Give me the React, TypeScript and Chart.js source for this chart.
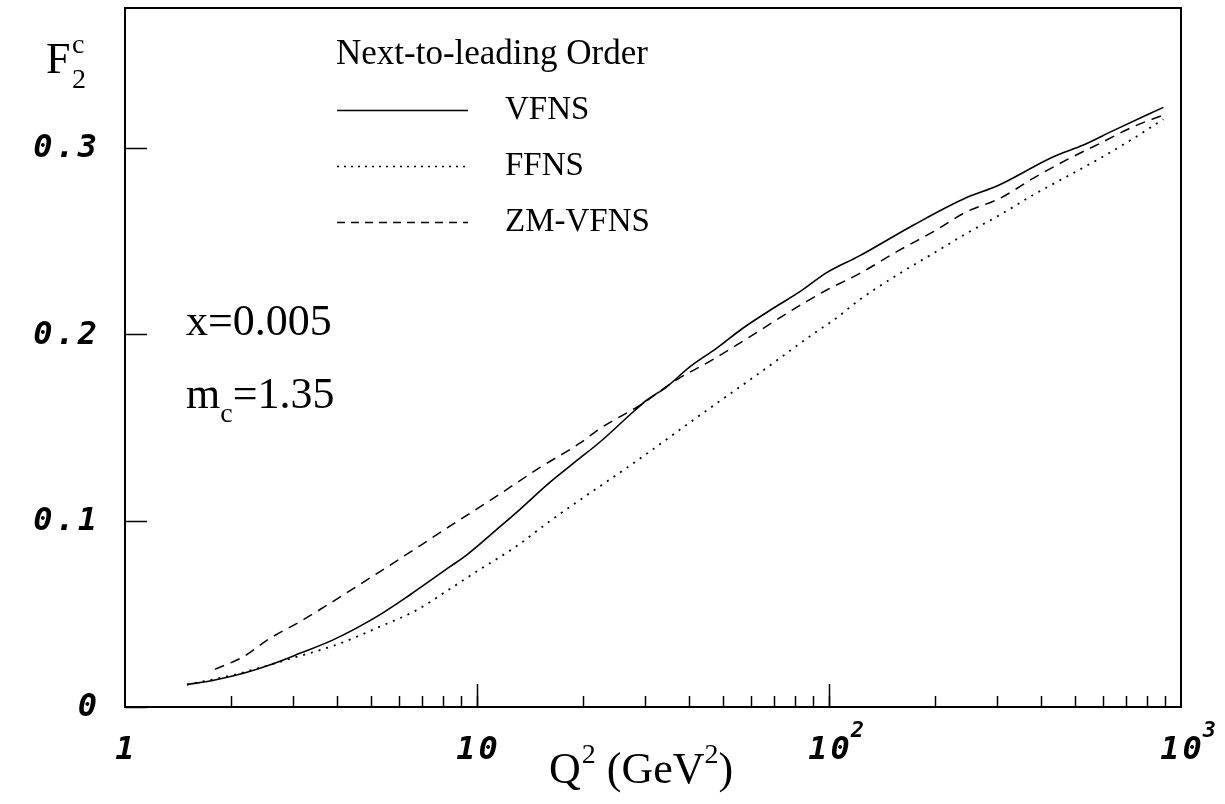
import React, { useEffect, useRef } from "react";
import { Chart, registerables } from "chart.js";

Chart.register(...registerables);

// ---- data ----
const Q_VFNS = [1.5, 1.8, 2.17, 2.6, 3.14, 3.9, 5.19, 6.44, 8.4, 9.34, 11.6, 13.2, 16.1, 19, 22.4, 27.8, 30.4, 34.6, 40.3, 47.9, 56.9, 69.4, 82.7, 98.5, 122, 174, 246, 300, 434, 528, 642, 891];
const F_VFNS = [0.012, 0.0145, 0.0181, 0.0228, 0.0288, 0.036, 0.0485, 0.0601, 0.0754, 0.0815, 0.0966, 0.1058, 0.1205, 0.1315, 0.1423, 0.1584, 0.1647, 0.1718, 0.1826, 0.1924, 0.2032, 0.2139, 0.2228, 0.233, 0.242, 0.2586, 0.2733, 0.2795, 0.2952, 0.3015, 0.3092, 0.3217];

const Q_FFNS = [1.5, 2.03, 3.0, 4.0, 5.3, 6.74, 8.4, 10, 13, 16.1, 20, 24.9, 29.1, 38.5, 48, 59.7, 74.2, 92.3, 103, 122, 159, 198, 246, 306, 380, 473, 589, 732, 891];
const F_FFNS = [0.012, 0.0172, 0.0263, 0.0335, 0.0431, 0.052, 0.0635, 0.0728, 0.0865, 0.0997, 0.1122, 0.1245, 0.1334, 0.15, 0.163, 0.1756, 0.1885, 0.2015, 0.2075, 0.2184, 0.2327, 0.2434, 0.2541, 0.264, 0.2747, 0.2845, 0.2944, 0.305, 0.3153];

const Q_ZM = [1.8, 2.17, 2.58, 3.14, 3.74, 4.45, 5.3, 6.88, 8.95, 11.6, 15.1, 19.6, 22.4, 29.1, 36.8, 45.7, 59.7, 75.9, 98.5, 122, 159, 198, 246, 306, 380, 473, 589, 732, 891];
const F_ZM = [0.0202, 0.027, 0.0368, 0.0458, 0.0545, 0.0635, 0.0726, 0.0865, 0.1005, 0.1142, 0.1285, 0.1415, 0.1495, 0.162, 0.1754, 0.1853, 0.1987, 0.2112, 0.2237, 0.2325, 0.2452, 0.255, 0.2657, 0.2729, 0.2836, 0.2935, 0.3024, 0.3113, 0.3176];

const X_MAJOR = [1, 10, 100, 1000];
const X_MAJOR_BASE = ["1", "10", "10", "10"];
const X_MAJOR_SUP = ["", "", "2", "3"];
const Y_TICKS = [0, 0.1, 0.2, 0.3];
const Y_TICK_LABELS = ["0", "0.1", "0.2", "0.3"];

const SERIES_NAMES = ["VFNS", "FFNS", "ZM-VFNS"];
const LEGEND_TITLE = "Next-to-leading Order";

const toPts = (qs: number[], fs: number[]) => qs.map((q, i) => ({ x: q, y: fs[i] }));

const SERIF = '"Liberation Serif", "DejaVu Serif", serif';
const MONO = '"DejaVu Sans Mono", monospace';

const decorPlugin = {
  id: "decor",
  afterDraw(chart: any) {
    const ctx: CanvasRenderingContext2D = chart.ctx;
    const { left, right, top, bottom } = chart.chartArea;
    const xs = chart.scales.x;
    const ys = chart.scales.y;
    ctx.save();
    ctx.strokeStyle = "#000";
    ctx.fillStyle = "#000";
    ctx.setLineDash([]);

    // frame
    ctx.lineWidth = 2;
    ctx.strokeRect(left, top, right - left, bottom - top);

    // y ticks (inward)
    ctx.lineWidth = 1.5;
    Y_TICKS.forEach((v) => {
      const py = Math.round(ys.getPixelForValue(v)) + 0.5;
      ctx.beginPath();
      ctx.moveTo(left, py);
      ctx.lineTo(left + 22, py);
      ctx.stroke();
    });

    // x ticks (inward), major + minor
    for (let d = 0; d < 3; d++) {
      const base = Math.pow(10, d);
      for (let m = 1; m <= 10; m++) {
        const v = base * m;
        if (v <= 1 || v >= 1000) continue;
        const px = Math.round(xs.getPixelForValue(v)) + 0.5;
        const len = m === 10 ? 23 : 11;
        ctx.beginPath();
        ctx.moveTo(px, bottom);
        ctx.lineTo(px, bottom - len);
        ctx.stroke();
      }
    }

    // y tick labels
    ctx.font = `italic bold 32px ${MONO}`;
    (ctx as any).letterSpacing = "3px";
    ctx.textAlign = "right";
    ctx.textBaseline = "middle";
    Y_TICKS.forEach((v, i) => {
      const py = ys.getPixelForValue(v);
      ctx.fillText(Y_TICK_LABELS[i], left - 28 + 3, py + 1);
    });

    // x tick labels
    ctx.textAlign = "left";
    ctx.textBaseline = "alphabetic";
    X_MAJOR.forEach((v, i) => {
      const px = xs.getPixelForValue(v);
      ctx.font = `italic bold 32px ${MONO}`;
      (ctx as any).letterSpacing = "3px";
      const txt = X_MAJOR_BASE[i];
      const w = ctx.measureText(txt).width - 3;
      ctx.fillText(txt, px - w / 2, 759);
      if (X_MAJOR_SUP[i]) {
        ctx.font = `italic bold 22px ${MONO}`;
        (ctx as any).letterSpacing = "0px";
        ctx.fillText(X_MAJOR_SUP[i], px + w / 2 + 1, 737);
      }
    });
    (ctx as any).letterSpacing = "0px";

    // y axis title F_2^c
    ctx.font = `44px ${SERIF}`;
    ctx.fillText("F", 46, 73);
    ctx.font = `28px ${SERIF}`;
    ctx.fillText("2", 72, 88);
    ctx.fillText("c", 72, 53);

    // x axis title Q^2 (GeV^2)
    let cx = 549;
    const by = 783;
    ctx.font = `44px ${SERIF}`;
    ctx.fillText("Q", cx, by);
    cx += ctx.measureText("Q").width + 1;
    ctx.font = `28px ${SERIF}`;
    ctx.fillText("2", cx, by - 20);
    cx += ctx.measureText("2").width;
    ctx.font = `44px ${SERIF}`;
    ctx.fillText(" (GeV", cx, by);
    cx += ctx.measureText(" (GeV").width;
    ctx.font = `28px ${SERIF}`;
    ctx.fillText("2", cx, by - 20);
    cx += ctx.measureText("2").width;
    ctx.font = `44px ${SERIF}`;
    ctx.fillText(")", cx, by);

    // annotations
    ctx.font = `44px ${SERIF}`;
    ctx.fillText("x=0.005", 186, 335);
    ctx.fillText("m", 186, 408);
    let mx = 186 + ctx.measureText("m").width;
    ctx.font = `28px ${SERIF}`;
    ctx.fillText("c", mx, 422);
    mx += ctx.measureText("c").width;
    ctx.font = `44px ${SERIF}`;
    ctx.fillText("=1.35", mx, 408);

    // legend
    ctx.font = `35px ${SERIF}`;
    ctx.fillText(LEGEND_TITLE, 336, 64);
    const rows = [110, 166, 222];
    const dashes = [[], [2, 5], [8, 6]];
    ctx.font = `33px ${SERIF}`;
    ctx.textBaseline = "middle";
    rows.forEach((ry, i) => {
      ctx.save();
      ctx.lineWidth = 1.5;
      ctx.setLineDash(dashes[i]);
      ctx.beginPath();
      ctx.moveTo(337, ry + 0.5);
      ctx.lineTo(468, ry + 0.5);
      ctx.stroke();
      ctx.restore();
      ctx.fillText(SERIES_NAMES[i], 505, ry);
    });

    ctx.restore();
  },
};

export default function App() {
  const ref = useRef<HTMLCanvasElement | null>(null);
  useEffect(() => {
    document.body.style.margin = "0";
    if (!ref.current) return;
    const common = {
      borderColor: "#000",
      pointRadius: 0,
      fill: false,
      cubicInterpolationMode: "monotone" as const,
    };
    const chart = new Chart(ref.current, {
      type: "line",
      data: {
        datasets: [
          { ...common, label: SERIES_NAMES[0], data: toPts(Q_VFNS, F_VFNS), borderWidth: 1.6 },
          { ...common, label: SERIES_NAMES[1], data: toPts(Q_FFNS, F_FFNS), borderWidth: 1.8, borderDash: [2, 6] },
          { ...common, label: SERIES_NAMES[2], data: toPts(Q_ZM, F_ZM), borderWidth: 1.5, borderDash: [10, 7] },
        ],
      },
      options: {
        animation: false,
        responsive: true,
        maintainAspectRatio: false,
        layout: { padding: { top: 8, right: 44, left: 0, bottom: 0 } },
        plugins: { legend: { display: false }, tooltip: { enabled: false } },
        scales: {
          x: {
            type: "logarithmic",
            min: 1,
            max: 1000,
            grid: { display: false },
            border: { display: false },
            ticks: { display: false },
            afterFit: (s: any) => {
              s.height = 97;
            },
          },
          y: {
            type: "linear",
            min: 0,
            max: 0.375,
            grid: { display: false },
            border: { display: false },
            ticks: { display: false },
            afterFit: (s: any) => {
              s.width = 125;
            },
          },
        },
      },
      plugins: [decorPlugin],
    });
    return () => chart.destroy();
  }, []);
  return (
    <div style={{ position: "absolute", left: 0, top: 0, width: 1225, height: 804, background: "#fff" }}>
      <canvas ref={ref} />
    </div>
  );
}
